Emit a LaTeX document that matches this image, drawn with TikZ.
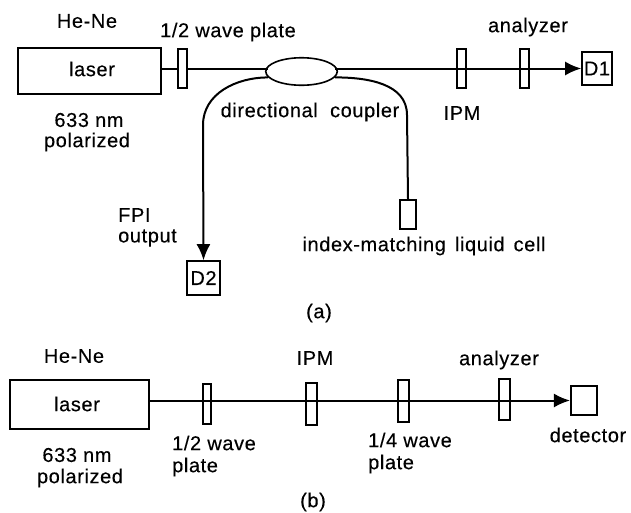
\documentclass[tikz,border=0pt]{standalone}
\usepackage{fontspec}
\setmainfont[LetterSpace=3,FakeBold=0.25]{Liberation Sans}
\usetikzlibrary{arrows.meta,shapes.geometric}
\tikzset{
	txt/.style={inner sep=0pt,font=\fontsize{20}{22}\selectfont},
	box/.style={draw,line width=1.6pt,inner sep=0pt},
	plate/.style={box,minimum width=9.5pt,minimum height=39pt},
	fibre/.style={line width=2pt},
	beam/.style={fibre,-{Latex[length=16pt,width=14pt]}}
}
\begin{document}
\begin{tikzpicture}[x=1pt,y=-1pt]
	\useasboundingbox (0,0) rectangle (631,512);
	% part (a)
	\node[box,minimum width=143.5pt,minimum height=46.5pt] (lasera) at (89.5,71) {};
	\node[txt] (laseratxt) at (92,69) {laser};
	\node[txt] (henea) at (87,21) {He-Ne};
	\node[txt] (nma) at (89,120) {633 nm};
	\node[txt] (pola) at (87,142) {polarized};
	\node[plate] (halfa) at (182.5,68.5) {};
	\node[txt] (halfatxt) at (228,32) {1/2 wave plate};
	\node[box,ellipse,minimum width=71.5pt,minimum height=27.5pt] (coupler) at (301.5,71.5) {};
	\node[txt] (couplertxt) at (310,112) {directional\ \ coupler};
	\node[plate] (ipma) at (461.5,68.5) {};
	\node[txt] (ipmatxt) at (462,113) {IPM};
	\node[plate] (ana) at (524.5,68.5) {};
	\node[txt] (anatxt) at (528,27) {analyzer};
	\node[box,txt,draw,minimum width=30pt,minimum height=33pt] (dA) at (597,68.5) {D1};
	\node[box,txt,draw,minimum width=33pt,minimum height=34pt] (dB) at (203.5,278) {D2};
	\node[box,minimum width=16.5pt,minimum height=29.5pt] (cell) at (408,214.5) {};
	\node[txt] (celltxt) at (424,246) {index-matching\hspace{9pt}liquid\hspace{9pt}cell};
	\node[txt,anchor=west] (fpi) at (118,215) {FPI};
	\node[txt,anchor=west] (output) at (118,238) {output};
	\node[txt] (capa) at (319,313) {(a)};
	\coordinate (bendl) at (203,125);
	\coordinate (bendr) at (407,115);
	\draw[fibre] (lasera.east |- halfa) -- (halfa.west);
	\draw[fibre] (halfa.east) -- (halfa.east -| coupler.170);
	\draw[beam] (coupler.10 |- dA) -- (dA.west);
	\draw[beam] (coupler.190) to[out=180,in=90] (bendl) -- (dB.north);
	\draw[fibre] (coupler.-10) to[out=0,in=90] (bendr) -- (cell.north);
	% part (b)
	\node[box,minimum width=139.5pt,minimum height=49.5pt] (laserb) at (79.5,404.5) {};
	\node[txt] (laserbtxt) at (77,404) {laser};
	\node[txt] (heneb) at (74,356) {He-Ne};
	\node[txt] (nmb) at (77,455) {633 nm};
	\node[txt] (polb) at (80,478) {polarized};
	\node[plate,minimum width=8.5pt,minimum height=40.5pt] (halfb) at (207,404) {};
	\node[txt,anchor=west] (halfbtxta) at (172,443) {1/2 wave};
	\node[txt,anchor=west] (halfbtxtb) at (172,467) {plate};
	\node[plate,minimum width=11.5pt,minimum height=42.5pt] (ipmb) at (311.5,404) {};
	\node[txt] (ipmbtxt) at (315,358) {IPM};
	\node[plate,minimum width=11.5pt,minimum height=42.5pt] (quarter) at (403.5,401) {};
	\node[txt,anchor=west] (quartertxta) at (368,440) {1/4 wave};
	\node[txt,anchor=west] (quartertxtb) at (368,464) {plate};
	\node[plate,minimum width=11.5pt,minimum height=41.5pt] (anb) at (504.5,399.5) {};
	\node[txt] (anbtxt) at (499,360) {analyzer};
	\node[box,minimum width=26.5pt,minimum height=28.5pt] (det) at (584,400.5) {};
	\node[txt] (dettxt) at (588,435) {detector};
	\node[txt] (capb) at (313,502) {(b)};
	\draw[beam] (laserb.east |- det) -- (det.west);
\end{tikzpicture}
\end{document}
